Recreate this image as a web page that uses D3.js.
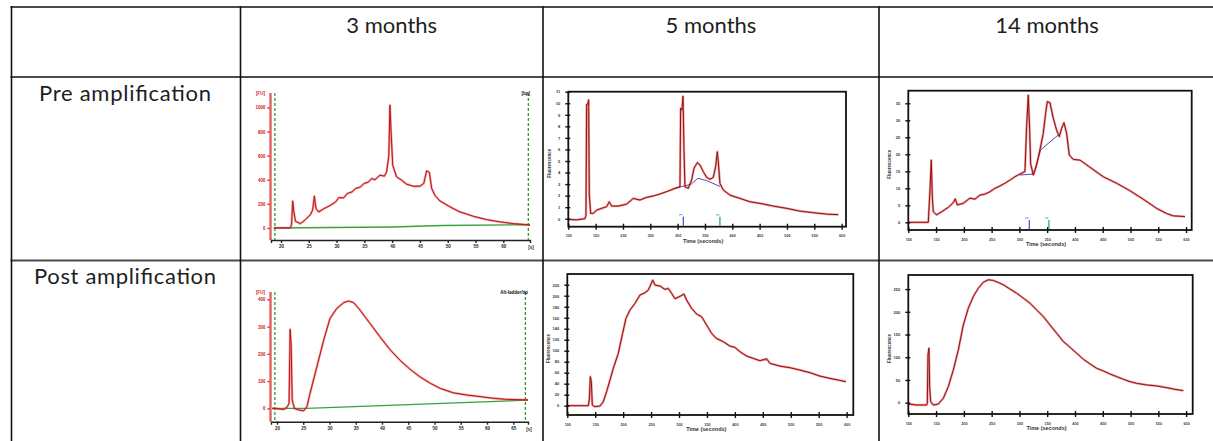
<!DOCTYPE html>
<html>
<head>
<meta charset="utf-8">
<script src="https://cdn.jsdelivr.net/npm/d3@7"></script>
<style>
  body { margin: 0; background: #fff; }
  svg { display: block; }
  .cell-text { font-family: Lato, "Open Sans", sans-serif; fill: #1e1e1e; }
  .tiny { font-family: "Liberation Sans", Arial, sans-serif; font-weight: bold; }
</style>
</head>
<body>
<div id="table"></div>
<script>
// ---- table labels ----
const colLabels = ["3 months", "5 months", "14 months"];
const rowLabels = ["Pre amplification", "Post amplification"];

// ---- tick labels ----
const bioTicksPre = [20, 25, 30, 35, 40, 45, 50, 55, 60];
const bioTicksPost = [20, 25, 30, 35, 40, 45, 50, 55, 60, 65];
const bioFuPre = [0, 200, 400, 600, 800, 1000];
const bioFuPost = [0, 100, 200, 300, 400];
const timeTicks = [100, 150, 200, 250, 300, 350, 400, 450, 500, 550, 600];
const fluoPre5 = [0, 1, 2, 3, 4, 5, 6, 7, 8, 9, 10, 11];
const fluoPre14 = [0, 5, 10, 15, 20, 25, 30, 35];
const fluoPost5 = [0, 20, 40, 60, 80, 100, 120, 140, 160, 180, 200, 220];
const fluoPost14 = [0, 50, 100, 150, 200, 250];

// ---- 3 months, pre amplification (time s, FU) ----
const pre3 = [[18.7,0],[21.7,0],[21.9,30],[22.1,224],[22.3,140],[22.6,55],[23.5,36],[24.4,70],[25.3,110],
  [25.7,150],[26.0,263],[26.3,160],[26.8,133],[27.7,160],[28.9,188],[29.8,215],[30.4,252],[31.3,250],
  [31.9,285],[32.8,300],[33.4,327],[34.3,340],[34.9,368],[35.7,380],[36.3,410],[36.9,400],[37.8,438],
  [38.6,430],[39.0,465],[39.4,600],[39.6,1019],[39.8,800],[40.1,520],[40.3,493],[40.8,424],[41.7,396],
  [42.6,363],[43.8,346],[45.0,346],[45.7,370],[46.2,474],[46.7,460],[47.1,330],[47.7,270],[48.6,224],
  [50.4,175],[52.2,133],[54.6,97],[57.0,69],[59.4,50],[61.8,36],[64.8,25]];
const pre3Base = [[18.7,0],[40,8],[49,20],[64.8,27]];
const pre3Markers = [18.9, 64.5];

// ---- 3 months, post amplification ----
const post3 = [[19.05,0],[21.3,-4],[21.9,4],[22.3,18],[22.5,290],[22.7,232],[22.9,31],[23.3,0],[24.1,-6],
  [25.1,-9],[25.7,6],[26.3,55],[27.6,153],[28.9,251],[30.1,330],[31.4,367],[32.7,388],[33.6,394],[34.6,388],
  [35.8,361],[37.7,312],[39.6,263],[41.5,216],[43.4,177],[45.3,144],[47.2,116],[49.2,92],[51.1,73],
  [53.6,57],[56.1,49],[58.7,43],[61.2,37],[63.7,33],[67.8,31]];
const post3Base = [[19.05,0],[25.7,0],[67.8,30]];
const post3Markers = [19.6, 67.3];

// ---- 5 months, pre amplification (time s, fluorescence) ----
const pre5 = [[100,-0.06],[115.2,-0.1],[130.5,0],[132.3,0.3],[133.5,9.9],[135.4,9.9],[137.2,10.3],[138.4,2.05],
  [140.9,0.46],[145.7,0.46],[151.8,0.75],[161,0.9],[170.1,1.04],[175,1.47],[179.3,1.1],[191.5,1.1],
  [206.7,1.27],[218.9,1.76],[231.1,1.62],[243.3,1.85],[255.5,1.97],[267.7,2.14],[282.9,2.4],[295.1,2.63],
  [304.3,2.77],[305.5,9.57],[307.9,9.4],[309.8,10.6],[311.6,5.95],[313.4,2.77],[319.5,2.63],[325.6,3.35],
  [329.9,4.36],[336,4.86],[340.9,4.65],[347,4.07],[353,3.58],[359.2,3.41],[365.2,3.58],[369.5,4.5],
  [372.6,5.8],[374.4,4.94],[377.4,3.06],[383.5,2.49],[395.7,2.05],[414,1.76],[432.3,1.47],[450.6,1.33],
  [475,1.1],[499.4,0.9],[523.8,0.66],[548.2,0.52],[572.6,0.4],[593.9,0.35]];
const pre5Base = [[295.1,2.63],[325,3.0],[337,3.5],[353,3.3],[377.4,2.8]];
const pre5Markers = [310.4, 377.4];

// ---- 14 months, pre amplification ----
const pre14 = [[100,0],[121,0],[136,0],[139,9.5],[141.4,18.3],[143.2,7.5],[145,3.1],[151,2.2],[160,3.1],
  [172,4.4],[181,5.8],[184.6,6.9],[188.2,5.1],[199,5.6],[211,7.1],[220,6.8],[229,8.0],[238,8.3],[247,9.0],
  [256,10.0],[265,10.7],[274,11.5],[283,12.4],[292,13.4],[301,14.2],[310,14.9],[313,28.1],[316,37.4],
  [318.4,27.6],[320.2,17.3],[325,13.9],[331,16.9],[337,21.3],[343,26.2],[347.2,32],[350.2,35.5],[355,35.2],
  [361,30.6],[367,27.1],[371.8,25.2],[376,27.6],[380.2,29.3],[385,26.2],[389.8,19.8],[397,18.5],[409,18.3],
  [427,16.2],[451,13.4],[475,11.5],[499,9.3],[523,6.8],[547,4.1],[565,2.6],[577,1.9],[598,1.7]];
const pre14Base = [[301,13.9],[326.2,14.2],[338.2,21.3],[370,25.7]];
const pre14Markers = [317.8, 353.2];

// ---- 5 months, post amplification ----
const post5 = [[100,0],[137.6,0],[139.4,10.3],[141.2,52.7],[143,43.6],[144.8,1.2],[149.5,-1.8],[158.5,-0.6],
  [164.4,7.3],[170.4,25.5],[176.4,46.7],[182.3,67.9],[191.3,95.1],[199,131.5],[205,158.8],[212.2,173.9],
  [221.1,186],[230.1,201.2],[239,205.4],[245,210.3],[249.2,219.4],[252.8,228.5],[256.9,219.4],[265.9,217.6],
  [274.8,211.5],[280.8,213.3],[286.8,204.2],[292.7,194.5],[301.7,198.8],[308.8,203],[313.6,192.1],
  [322.6,177],[331.5,166.7],[340.5,161.8],[349.4,146.7],[358.4,131.5],[366.8,122.4],[379.3,116.4],
  [391.2,108.5],[400.2,106],[409.1,98.2],[421,90.3],[433,86.1],[444.9,81.8],[456.8,85.4],[462.8,77],
  [480.7,72.1],[498.6,69.1],[516.5,64.8],[534.4,60],[552.3,53.9],[570.2,49.7],[585.1,46.7],[598.9,43.6]];

// ---- 14 months, post amplification ----
const post14 = [[100,-2.9],[115,-5.1],[133,-5.1],[134.2,-1.5],[135.4,105],[137.2,119.8],[138.4,36.8],
  [140.2,2.2],[145,-5.1],[154,-2.9],[163,9.6],[172,35.3],[181,72],[190,116],[199,171],[208,208],[217,233.7],
  [226,252],[235,265],[244,270.5],[253,269],[262,264.6],[271,259.5],[283,250],[295,241],[307,230],[319,219],
  [331,204],[343,189.6],[355,171],[367,153],[379,134.5],[391,122],[403,108.8],[415,95.6],[427,85.3],
  [439,75.7],[451,69.8],[463,63.2],[475,57.3],[487,51.5],[499,46.3],[511,42.6],[529,39],[547,36.8],
  [565,33],[580,29.4],[595,26.5]];

const W = 1213, H = 441;
const svg = d3.select("#table").append("svg")
  .attr("width", W).attr("height", H);

// ---- table grid ----
const colX = [11.5, 240.5, 543, 879, 1215];
const rowY = [7, 77, 260.5, 441];

[rowY[0], rowY[1], rowY[2]].forEach(y => {
  svg.append("line").attr("x1", colX[0] - 1).attr("x2", W).attr("y1", y).attr("y2", y)
    .attr("stroke", "#4a4a4a").attr("stroke-width", 2);
});
colX.slice(0, 4).forEach(x => {
  svg.append("line").attr("x1", x).attr("x2", x).attr("y1", rowY[0] - 1).attr("y2", H)
    .attr("stroke", "#111").attr("stroke-width", 1.6);
});

colLabels.forEach((c, i) => {
  svg.append("text").attr("class", "cell-text")
    .attr("x", (colX[i + 1] + colX[i + 2]) / 2).attr("y", 33)
    .attr("text-anchor", "middle").style("font-size", "22px")
    .text(c);
});
rowLabels.forEach((r, i) => {
  svg.append("text").attr("class", "cell-text")
    .attr("x", 125).attr("y", i === 0 ? 101 : 284)
    .attr("text-anchor", "middle").style("font-size", "22px")
    .attr("textLength", i === 0 ? 172 : 182).attr("lengthAdjust", "spacing")
    .text(r);
});

function drawTrace(g, data, x, y, halo, core) {
  const line = d3.line().x(d => x(d[0])).y(d => y(d[1]));
  g.append("path").datum(data).attr("d", line)
    .attr("fill", "none").attr("stroke", halo).attr("stroke-width", 2.3)
    .attr("stroke-opacity", 0.5).attr("stroke-linejoin", "round");
  g.append("path").datum(data).attr("d", line)
    .attr("fill", "none").attr("stroke", core).attr("stroke-width", 1)
    .attr("stroke-linejoin", "round");
}

// Bioanalyzer style electropherogram
function drawBio(cfg) {
  const g = svg.append("g");
  const x = d3.scaleLinear().domain(cfg.xd).range([cfg.left, cfg.right]);
  const y = d3.scaleLinear().domain(cfg.yd).range([cfg.bottom, cfg.top]);

  // red y axis
  g.append("g").attr("transform", `translate(${cfg.left - 0.5},0)`)
    .call(d3.axisLeft(y).tickValues(cfg.yTicks).tickFormat(d3.format("d")).tickSize(3).tickPadding(2))
    .call(a => a.select(".domain").remove())
    .call(a => a.selectAll("line").attr("stroke", "#d02020").attr("stroke-width", 1.4))
    .call(a => a.selectAll("text").attr("class", "tiny").attr("fill", "#d02020")
      .style("font-size", "4.5px"));
  g.append("line").attr("x1", cfg.left - 0.5).attr("x2", cfg.left - 0.5)
    .attr("y1", cfg.top).attr("y2", cfg.bottom)
    .attr("stroke", "#e06060").attr("stroke-width", 2.4);
  g.append("text").attr("class", "tiny").attr("x", cfg.left - 6).attr("y", cfg.top + 2)
    .attr("text-anchor", "end").attr("fill", "#d02020").style("font-size", "4.5px").text("[FU]");

  // bottom axis
  g.append("g").attr("transform", `translate(0,${cfg.bottom})`)
    .call(d3.axisBottom(x).tickValues(cfg.xTicks).tickSize(3).tickPadding(2))
    .call(a => a.select(".domain").attr("stroke", "#222").attr("stroke-width", 1.4))
    .call(a => a.selectAll("line").attr("stroke", "#222").attr("stroke-width", 1.4))
    .call(a => a.selectAll("text").attr("class", "tiny").attr("fill", "#222")
      .style("font-size", "4.5px"));
  g.append("text").attr("class", "tiny").attr("x", cfg.right + 1).attr("y", cfg.bottom + 9)
    .attr("text-anchor", "middle").attr("fill", "#222").style("font-size", "4.5px").text("[s]");

  // marker lines
  cfg.markers.forEach(m => {
    g.append("line").attr("x1", x(m)).attr("x2", x(m))
      .attr("y1", cfg.top).attr("y2", cfg.bottom)
      .attr("stroke", "#2f9a2f").attr("stroke-width", 1.3).attr("stroke-dasharray", "3,2");
  });
  g.append("text").attr("class", "tiny").attr("x", cfg.right).attr("y", cfg.top + 2)
    .attr("text-anchor", "end").attr("fill", "#111").style("font-size", "4.5px").text(cfg.tag);

  g.append("path").datum(cfg.base)
    .attr("d", d3.line().x(d => x(d[0])).y(d => y(d[1])))
    .attr("fill", "none").attr("stroke", "#3aa03a").attr("stroke-width", 1.4);
  drawTrace(g, cfg.data, x, y, "#ee3a3a", "#b51616");
}

// framed fluorescence vs time plot
function drawFA(cfg) {
  const g = svg.append("g");
  const x = d3.scaleLinear().domain(cfg.xd).range([cfg.left, cfg.right]);
  const y = d3.scaleLinear().domain(cfg.yd).range([cfg.bottom, cfg.top]);

  if (cfg.base) {
    g.append("path").datum(cfg.base)
      .attr("d", d3.line().x(d => x(d[0])).y(d => y(d[1])))
      .attr("fill", "none").attr("stroke", "#3a3ab0").attr("stroke-width", 0.9);
  }
  drawTrace(g, cfg.data, x, y, "#e23030", "#8e1212");

  g.append("rect").attr("x", cfg.left).attr("y", cfg.top)
    .attr("width", cfg.right - cfg.left).attr("height", cfg.bottom - cfg.top)
    .attr("fill", "none").attr("stroke", "#111").attr("stroke-width", 1.8);

  g.append("g").attr("transform", `translate(${cfg.left},0)`)
    .call(d3.axisLeft(y).tickValues(cfg.yTicks).tickSize(3).tickPadding(5))
    .call(a => a.select(".domain").remove())
    .call(a => a.selectAll("line").attr("x1", 2).attr("stroke", "#111").attr("stroke-width", 1.4))
    .call(a => a.selectAll("text").attr("class", "tiny").attr("fill", "#333")
      .style("font-size", "4px"));
  g.append("g").attr("transform", `translate(0,${cfg.bottom})`)
    .call(d3.axisBottom(x).tickValues(timeTicks).tickSize(3).tickPadding(5))
    .call(a => a.select(".domain").remove())
    .call(a => a.selectAll("line").attr("y1", -3).attr("stroke", "#111").attr("stroke-width", 1.4))
    .call(a => a.selectAll("text").attr("class", "tiny").attr("fill", "#444")
      .style("font-size", "3.8px"));

  g.append("text").attr("class", "tiny")
    .attr("transform", `translate(${cfg.left - 17},${(cfg.top + cfg.bottom) / 2 + 4}) rotate(-90)`)
    .attr("text-anchor", "middle").attr("fill", "#333").style("font-size", "4.5px")
    .text("Fluorescence");
  g.append("text").attr("class", "tiny")
    .attr("x", (cfg.left + cfg.right) / 2 - 4).attr("y", cfg.bottom + 16)
    .attr("text-anchor", "middle").attr("fill", "#333").style("font-size", "5.5px")
    .text("Time (seconds)");

  (cfg.markers || []).forEach((m, i) => {
    const col = i === 0 ? "#3050d0" : "#129a9a";
    g.append("line").attr("x1", x(m)).attr("x2", x(m))
      .attr("y1", cfg.bottom - 10).attr("y2", cfg.bottom - 1)
      .attr("stroke", col).attr("stroke-width", 1.2);
    g.append("text").attr("class", "tiny")
      .attr("transform", `translate(${x(m) - 1},${cfg.bottom - 11}) rotate(-90)`)
      .attr("fill", col).style("font-size", "3.5px").text(i + 1);
  });
}

drawBio({ data: pre3, base: pre3Base, markers: pre3Markers, tag: "[bp]",
  xd: [18.2, 64.8], yd: [-100, 1120], left: 271, right: 530, top: 93, bottom: 240,
  xTicks: bioTicksPre, yTicks: bioFuPre });
drawBio({ data: post3, base: post3Base, markers: post3Markers, tag: "Alt-ladder/tip",
  xd: [18.86, 67.8], yd: [-49, 427], left: 271, right: 528, top: 292, bottom: 421.7,
  xTicks: bioTicksPost, yTicks: bioFuPost });

drawFA({ data: pre5, base: pre5Base, markers: pre5Markers,
  xd: [100, 608], yd: [-0.69, 11], left: 568.3, right: 846, top: 91.7, bottom: 226.7,
  yTicks: fluoPre5 });
drawFA({ data: pre14, base: pre14Base, markers: pre14Markers,
  xd: [100, 610.2], yd: [-2.26, 38.7], left: 908.3, right: 1191.7, top: 90.7, bottom: 230,
  yTicks: fluoPre14 });
drawFA({ data: post5,
  xd: [100, 612], yd: [-16.9, 239.5], left: 567.3, right: 853.3, top: 274, bottom: 415,
  yTicks: fluoPost5 });
drawFA({ data: post14,
  xd: [100, 611.8], yd: [-24.9, 281], left: 908.3, right: 1192.7, top: 275, bottom: 414,
  yTicks: fluoPost14 });
</script>
</body>
</html>
